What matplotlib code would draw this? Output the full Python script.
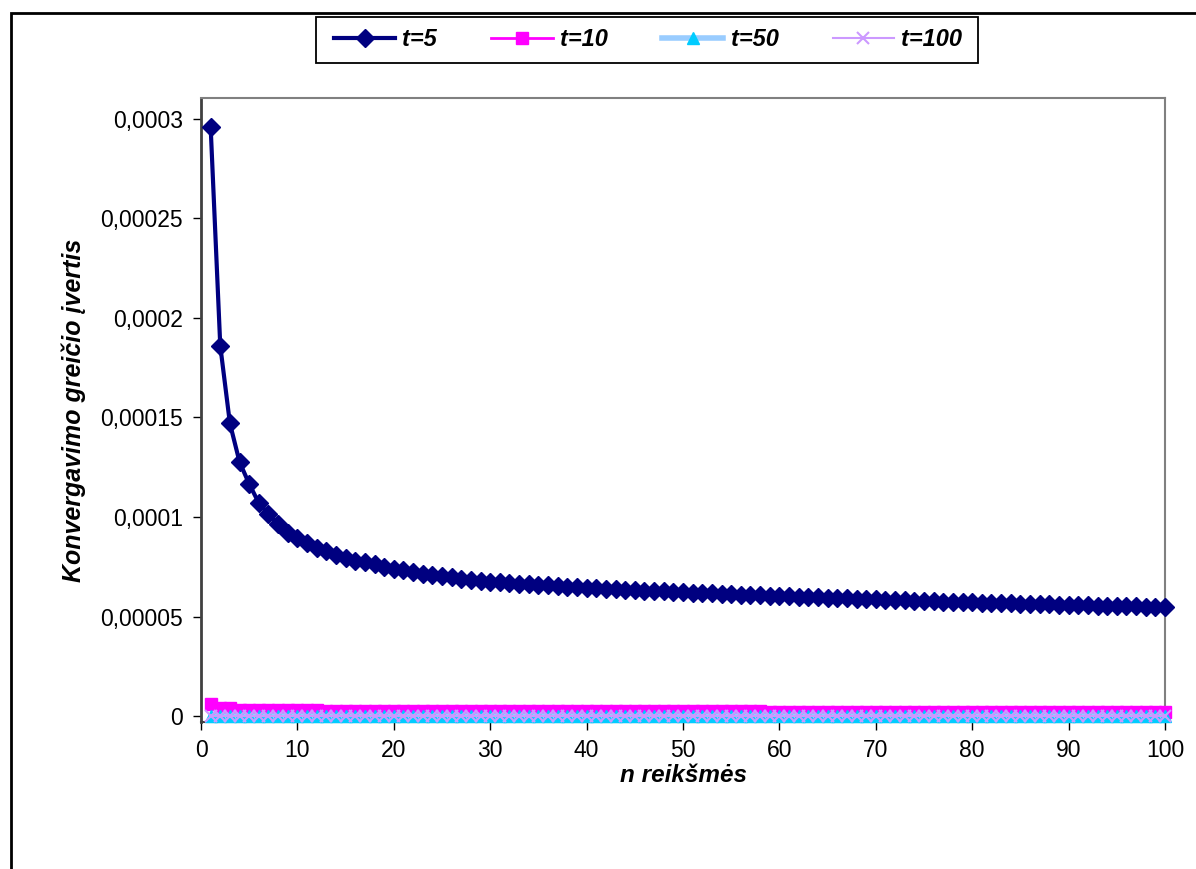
import matplotlib
matplotlib.use("Agg")
import matplotlib.pyplot as plt
from matplotlib.patches import Rectangle
from matplotlib.ticker import FixedLocator

plt.rcParams["font.family"] = ["Liberation Sans", "DejaVu Sans"]

# n reikšmės 1..100
n = list(range(1, 101))

# t=5 (skaitytos iš paveikslo)
t5 = [
    2.960e-4, 1.859e-4, 1.470e-4, 1.276e-4, 1.166e-4, 1.070e-4, 1.015e-4, 9.65e-5, 9.20e-5, 8.95e-5,
    8.69e-5, 8.44e-5, 8.29e-5, 8.09e-5, 7.94e-5, 7.81e-5, 7.72e-5, 7.62e-5, 7.50e-5, 7.40e-5,
    7.33e-5, 7.26e-5, 7.16e-5, 7.09e-5, 7.01e-5, 6.96e-5, 6.89e-5, 6.83e-5, 6.79e-5, 6.75e-5,
    6.72e-5, 6.68e-5, 6.65e-5, 6.62e-5, 6.59e-5, 6.56e-5, 6.53e-5, 6.50e-5, 6.47e-5, 6.44e-5,
    6.42e-5, 6.39e-5, 6.37e-5, 6.35e-5, 6.32e-5, 6.30e-5, 6.28e-5, 6.26e-5, 6.24e-5, 6.22e-5,
    6.20e-5, 6.18e-5, 6.16e-5, 6.14e-5, 6.12e-5, 6.10e-5, 6.09e-5, 6.07e-5, 6.05e-5, 6.03e-5,
    6.01e-5, 5.99e-5, 5.97e-5, 5.96e-5, 5.94e-5, 5.92e-5, 5.91e-5, 5.89e-5, 5.87e-5, 5.86e-5,
    5.84e-5, 5.83e-5, 5.81e-5, 5.80e-5, 5.78e-5, 5.77e-5, 5.75e-5, 5.74e-5, 5.73e-5, 5.71e-5,
    5.70e-5, 5.69e-5, 5.67e-5, 5.66e-5, 5.65e-5, 5.64e-5, 5.62e-5, 5.61e-5, 5.60e-5, 5.59e-5,
    5.58e-5, 5.57e-5, 5.55e-5, 5.54e-5, 5.53e-5, 5.52e-5, 5.51e-5, 5.50e-5, 5.49e-5, 5.48e-5,
]

# t=10
t10 = [
    6.2e-6, 4.2e-6, 4.0e-6, 2.9e-6, 2.9e-6, 2.8e-6, 2.8e-6, 2.8e-6, 2.8e-6, 2.8e-6,
    2.8e-6, 2.8e-6, 2.7e-6, 2.7e-6, 2.7e-6, 2.7e-6, 2.7e-6, 2.7e-6, 2.7e-6, 2.7e-6,
    2.7e-6, 2.7e-6, 2.7e-6, 2.7e-6, 2.7e-6, 2.7e-6, 2.6e-6, 2.6e-6, 2.6e-6, 2.6e-6,
    2.6e-6, 2.6e-6, 2.6e-6, 2.6e-6, 2.6e-6, 2.6e-6, 2.6e-6, 2.6e-6, 2.6e-6, 2.6e-6,
    2.6e-6, 2.6e-6, 2.6e-6, 2.6e-6, 2.5e-6, 2.5e-6, 2.5e-6, 2.5e-6, 2.5e-6, 2.5e-6,
    2.5e-6, 2.5e-6, 2.5e-6, 2.5e-6, 2.5e-6, 2.5e-6, 2.5e-6, 2.5e-6, 1.9e-6, 1.9e-6,
    1.9e-6, 1.9e-6, 1.9e-6, 1.9e-6, 1.9e-6, 1.9e-6, 1.9e-6, 1.9e-6, 1.9e-6, 1.9e-6,
    1.9e-6, 1.9e-6, 1.9e-6, 1.9e-6, 1.9e-6, 1.9e-6, 1.9e-6, 1.9e-6, 1.9e-6, 1.9e-6,
    1.9e-6, 1.9e-6, 1.9e-6, 1.9e-6, 1.9e-6, 1.9e-6, 1.9e-6, 1.9e-6, 1.9e-6, 1.9e-6,
    1.9e-6, 1.9e-6, 1.9e-6, 1.9e-6, 1.9e-6, 1.9e-6, 1.9e-6, 1.9e-6, 1.9e-6, 1.9e-6,
]

# t=50 ir t=100 - praktiškai nulis
t50 = [
    0, 0, 0, 0, 0, 0, 0, 0, 0, 0,
    0, 0, 0, 0, 0, 0, 0, 0, 0, 0,
    0, 0, 0, 0, 0, 0, 0, 0, 0, 0,
    0, 0, 0, 0, 0, 0, 0, 0, 0, 0,
    0, 0, 0, 0, 0, 0, 0, 0, 0, 0,
    0, 0, 0, 0, 0, 0, 0, 0, 0, 0,
    0, 0, 0, 0, 0, 0, 0, 0, 0, 0,
    0, 0, 0, 0, 0, 0, 0, 0, 0, 0,
    0, 0, 0, 0, 0, 0, 0, 0, 0, 0,
    0, 0, 0, 0, 0, 0, 0, 0, 0, 0,
]
t100 = [
    0, 0, 0, 0, 0, 0, 0, 0, 0, 0,
    0, 0, 0, 0, 0, 0, 0, 0, 0, 0,
    0, 0, 0, 0, 0, 0, 0, 0, 0, 0,
    0, 0, 0, 0, 0, 0, 0, 0, 0, 0,
    0, 0, 0, 0, 0, 0, 0, 0, 0, 0,
    0, 0, 0, 0, 0, 0, 0, 0, 0, 0,
    0, 0, 0, 0, 0, 0, 0, 0, 0, 0,
    0, 0, 0, 0, 0, 0, 0, 0, 0, 0,
    0, 0, 0, 0, 0, 0, 0, 0, 0, 0,
    0, 0, 0, 0, 0, 0, 0, 0, 0, 0,
]

y_ticks = [0, 0.00005, 0.0001, 0.00015, 0.0002, 0.00025, 0.0003]
y_tick_labels = ["0", "0,00005", "0,0001", "0,00015", "0,0002", "0,00025", "0,0003"]
x_ticks = [0, 10, 20, 30, 40, 50, 60, 70, 80, 90, 100]

W, H = 1196, 869
fig = plt.figure(figsize=(W / 100, H / 100), dpi=100)

# išorinis rėmelis (matosi tik kairė ir viršus)
fig.patches.append(Rectangle((11 / W, -0.2), 1.2, 1.2 - 13 / H,
                             transform=fig.transFigure, fill=False,
                             edgecolor="black", linewidth=2.0))

ax = fig.add_axes([201 / W, 1 - 722 / H, (1165 - 201) / W, (722 - 98) / H])

ax.plot(n, t5, color="#000080", linewidth=3, marker="D", markersize=9,
        markerfacecolor="#000080", markeredgecolor="#000080", clip_on=False,
        label="t=5", zorder=3)
ax.plot(n, t10, color="#FF00FF", linewidth=2, marker="s", markersize=8,
        markerfacecolor="#FF00FF", markeredgecolor="#FF00FF", clip_on=False,
        label="t=10", zorder=4)
ax.plot(n, t50, color="#99CCFF", linewidth=4, marker="^", markersize=9,
        markerfacecolor="#00CCFF", markeredgecolor="#00CCFF", clip_on=False,
        label="t=50", zorder=5)
ax.plot(n, t100, color="#CC99FF", linewidth=1.5, marker="x", markersize=8,
        markeredgewidth=1.5, markeredgecolor="#CC99FF", clip_on=False,
        label="t=100", zorder=6)

ax.set_xlim(0, 100)
ax.set_ylim(-3.0e-6, 3.105e-4)

ax.yaxis.set_major_locator(FixedLocator(y_ticks))
ax.set_yticklabels(y_tick_labels)
ax.set_xticks(x_ticks)

ax.tick_params(axis="both", labelsize=16.5, direction="out", length=6,
               color="black", width=1)
ax.tick_params(axis="x", pad=6)
ax.tick_params(axis="y", pad=7)

for side in ["top", "right"]:
    ax.spines[side].set_color("#808080")
    ax.spines[side].set_linewidth(1.5)
ax.spines["left"].set_color("#404040")
ax.spines["left"].set_linewidth(2)
ax.spines["bottom"].set_color("#404040")
ax.spines["bottom"].set_linewidth(1.5)

ax.set_xlabel("n reikšmės", fontsize=17.5, fontweight="bold", fontstyle="italic",
              labelpad=2)
ax.set_ylabel("Konvergavimo greičio įvertis", fontsize=18, fontweight="bold",
              fontstyle="italic", labelpad=10)

# legenda be rėmo + atskiras rėmelis
leg = fig.legend(loc="center", bbox_to_anchor=(648 / W, 1 - 40 / H), ncol=4,
                 frameon=False,
                 prop={"size": 17, "weight": "bold", "style": "italic"},
                 handlelength=2.6, handletextpad=0.3, columnspacing=2.3,
                 borderpad=0.2)
fig.patches.append(Rectangle((316 / W, 1 - 63 / H), (978 - 316) / W, 46 / H,
                             transform=fig.transFigure, fill=False,
                             edgecolor="black", linewidth=1.3))

fig.savefig("out.png", dpi=100)
